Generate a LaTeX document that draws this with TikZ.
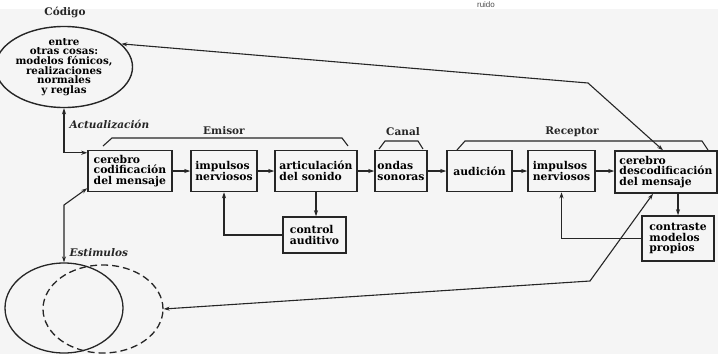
\documentclass[tikz,border=0pt]{standalone}
\usepackage{fontspec}
\setmainfont{DejaVu Serif}
\setsansfont{Liberation Sans}
\usetikzlibrary{shapes.geometric,arrows.meta}
\tikzset{>={Stealth[length=6pt,width=4pt]}}
\colorlet{penColor}{black!85}
\colorlet{paper}{black!4}
\tikzset{
	caja/.style={draw=penColor,line width=1.5pt,align=left,inner sep=2pt,minimum height=41pt,font=\bfseries\fontsize{10.8}{10.8}\selectfont},
	flecha/.style={penColor,line width=1.1pt},
	rotulo/.style={penColor,font=\bfseries\fontsize{10.5}{11}\selectfont},
	llave/.style={penColor,line width=1.1pt}
}

\begin{document}
\begin{tikzpicture}[x=1pt,y=-1pt]
				\useasboundingbox (0,0) rectangle (718,354);
				\clip (0,0) rectangle (718,354);
				\fill[paper] (0,9) rectangle (718,354);
				\node[anchor=base,black!70,font=\sffamily\fontsize{8}{8}\selectfont] (ruido) at (486,7.5) {ruido};
				% codigo y estimulos
				\node[ellipse,draw=penColor,line width=1.4pt,minimum width=118pt,minimum height=80pt,inner sep=0pt,align=center,font=\bfseries\fontsize{10.3}{9.6}\selectfont] (codigo) at (64,67) {entre\\otras cosas:\\modelos fónicos,\\realizaciones\\normales\\y reglas};
				\node[rotulo] (codlab) at (65,12) {Código};
				\node[ellipse,draw=penColor,line width=1.3pt,minimum width=118pt,minimum height=90pt] (estA) at (64,308) {};
				\node[ellipse,draw=penColor,line width=1.3pt,dash pattern=on 7pt off 4pt,minimum width=120pt,minimum height=88pt] (estB) at (103,309) {};
				% cajas
				\node[caja,minimum width=84pt] (cod) at (130,171) {cerebro\\codificación\\del mensaje};
				\node[caja,minimum width=66pt] (imp1) at (224,171) {impulsos\\nerviosos};
				\node[caja,minimum width=82pt] (art) at (316,171) {articulación\\del sonido};
				\node[caja,minimum width=52pt] (ondas) at (401,171) {ondas\\sonoras};
				\node[caja,minimum width=65pt] (aud) at (479.5,171) {audición};
				\node[caja,minimum width=67pt] (imp2) at (561.5,171) {impulsos\\nerviosos};
				\node[caja,minimum width=102pt,minimum height=42pt] (desc) at (666,172) {cerebro\\descodificación\\del mensaje};
				\node[caja,minimum width=63pt,minimum height=36pt] (ctrl) at (314.5,235) {control\\auditivo};
				\node[caja,minimum width=72pt,minimum height=45pt] (contr) at (678,238.5) {contraste\\modelos\\propios};
				% llaves
				\draw[llave] (103,146) -- (112,138) -- (342,138) -- (348,146);
				\draw[llave] (379,149) -- (385,141) -- (418,141) -- (423,149);
				\draw[llave] (457,150) -- (465,141) -- (702,141) -- (708,150);
				\node[rotulo] (emisor) at (224,131) {Emisor};
				\node[rotulo] (canal) at (403,132) {Canal};
				\node[rotulo] (receptor) at (572,132) {Receptor};
				\node[rotulo,font=\bfseries\itshape\fontsize{10.5}{11}\selectfont,anchor=west] (actual) at (66,125) {Actualización};
				\node[rotulo,font=\bfseries\itshape\fontsize{10.5}{11}\selectfont,anchor=west] (estim) at (66,253) {Estimulos};
				% flechas
				\foreach \a/\b in {cod/imp1,imp1/art,art/ondas,ondas/aud,aud/imp2,imp2/desc}
					\draw[flecha,->] (\a.east) -- (\a.east -| \b.west);
				\draw[flecha,->] (art.south) -- (art.south |- ctrl.north);
				\draw[flecha,->] (ctrl.west) -| (imp1.south);
				\draw[flecha,->] (contr.north |- desc.south) -- (contr.north);
				\draw[flecha,->] (contr.west) -| (imp2.south);
				\draw[flecha,<->] (codigo.south) |- ([yshift=-3pt]cod.north west);
				\coordinate (k0) at (63,205);
				\draw[flecha,<->] (estA.north) -- (estA.north |- k0) -- ([yshift=4pt]cod.south west);
				\coordinate (k1) at (588,83);
				\draw[flecha,<->] (codigo.22) -- (k1) -- ([xshift=-3pt]desc.north);
				\coordinate (k2) at (590,281);
				\draw[flecha,<->] (estB.east) -- (k2) -- ([xshift=-13pt]desc.south);
\end{tikzpicture}
\end{document}
